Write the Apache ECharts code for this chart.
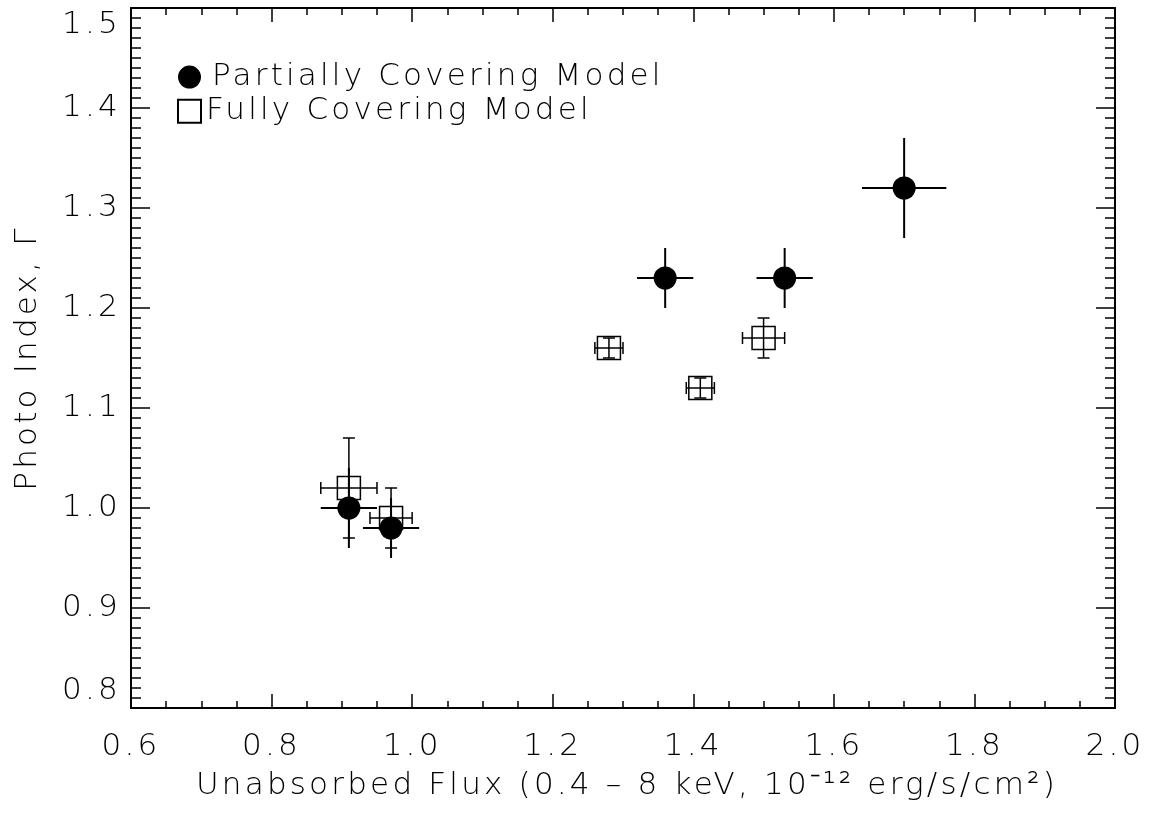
<!DOCTYPE html>
<html>
<head>
<meta charset="utf-8">
<script src="https://cdn.jsdelivr.net/npm/echarts@6/dist/echarts.min.js"></script>
<style>
html,body{margin:0;padding:0;background:#fff;}
#chart{width:1151px;height:813px;}
</style>
</head>
<body>
<div id="chart"></div>
<script>
// Partially covering model (filled circles)
const partialX    = [0.91, 0.97, 1.36, 1.53, 1.70];
const partialY    = [1.00, 0.98, 1.23, 1.23, 1.32];
const partialXErr = [0.04, 0.04, 0.04, 0.04, 0.06];
const partialYErr = [0.04, 0.03, 0.03, 0.03, 0.05];

// Fully covering model (open squares)
const fullX    = [0.91, 0.97, 1.28, 1.41, 1.50];
const fullY    = [1.02, 0.99, 1.16, 1.12, 1.17];
const fullXErr = [0.04, 0.03, 0.02, 0.02, 0.03];
const fullYErr = [0.05, 0.03, 0.01, 0.01, 0.02];

const xTicks = [0.6, 0.8, 1.0, 1.2, 1.4, 1.6, 1.8, 2.0];
const yTicks = [0.8, 0.9, 1.0, 1.1, 1.2, 1.3, 1.4, 1.5];

// wide, thin lettering similar to the original plot font
const LS = '3.2px';
(function () {
  const P = CanvasRenderingContext2D.prototype;
  if (!('letterSpacing' in P)) return;
  ['fillText', 'strokeText', 'measureText'].forEach(fn => {
    const orig = P[fn];
    P[fn] = function () { this.letterSpacing = LS; return orig.apply(this, arguments); };
  });
})();

const FONT = '"DejaVu Sans", sans-serif';
const FW = 200;
const FS = 31;
const TXT = '#000';

function rows(xs, ys, exs, eys) {
  return xs.map((x, i) => [x, ys[i], exs[i], eys[i]]);
}

function errRender(capHalf, lw) {
  return function (params, api) {
    const x = api.value(0), y = api.value(1), ex = api.value(2), ey = api.value(3);
    const l = api.coord([x - ex, y]);
    const r = api.coord([x + ex, y]);
    const t = api.coord([x, y + ey]);
    const b = api.coord([x, y - ey]);
    const st = { stroke: '#000', lineWidth: lw, fill: null };
    const ch = [
      { type: 'line', shape: { x1: l[0], y1: l[1], x2: r[0], y2: r[1] }, style: st },
      { type: 'line', shape: { x1: t[0], y1: t[1], x2: b[0], y2: b[1] }, style: st }
    ];
    if (capHalf > 0) {
      ch.push({ type: 'line', shape: { x1: l[0], y1: l[1] - capHalf, x2: l[0], y2: l[1] + capHalf }, style: st });
      ch.push({ type: 'line', shape: { x1: r[0], y1: r[1] - capHalf, x2: r[0], y2: r[1] + capHalf }, style: st });
      ch.push({ type: 'line', shape: { x1: t[0] - capHalf, y1: t[1], x2: t[0] + capHalf, y2: t[1] }, style: st });
      ch.push({ type: 'line', shape: { x1: b[0] - capHalf, y1: b[1], x2: b[0] + capHalf, y2: b[1] }, style: st });
    }
    return { type: 'group', children: ch };
  };
}

const axisLineStyle = { color: '#000', width: 2 };
const textBase = { fontFamily: FONT, fontWeight: FW, fontSize: FS, color: TXT };

function xAxisDef(pos, labels) {
  return {
    type: 'value', position: pos, min: xTicks[0], max: xTicks[xTicks.length - 1], interval: 0.2,
    axisLine: { show: true, onZero: false, lineStyle: axisLineStyle },
    axisTick: { show: true, inside: true, length: 14, lineStyle: { color: '#000', width: 1.5 } },
    minorTick: { show: true, splitNumber: 4, length: 7, lineStyle: { color: '#000', width: 1.5 } },
    splitLine: { show: false },
    axisLabel: Object.assign({ show: labels, formatter: v => v.toFixed(1), margin: 22 }, textBase),
    name: labels ? 'Unabsorbed Flux (0.4 – 8 keV, 10⁻¹² erg/s/cm²)' : '',
    nameLocation: 'middle', nameGap: 53,
    nameTextStyle: Object.assign({ padding: [0, 0, 0, 8] }, textBase)
  };
}

function yAxisDef(pos, labels) {
  return {
    type: 'value', position: pos, min: yTicks[0], max: yTicks[yTicks.length - 1], interval: 0.1,
    axisLine: { show: true, onZero: false, lineStyle: axisLineStyle },
    axisTick: { show: true, inside: true, length: 19, lineStyle: { color: '#000', width: 1.5 } },
    minorTick: { show: true, splitNumber: 10, length: 10, lineStyle: { color: '#000', width: 1.5 } },
    splitLine: { show: false },
    axisLabel: Object.assign({ show: labels, formatter: v => v.toFixed(1), margin: 10,
      verticalAlignMaxLabel: 'top', verticalAlignMinLabel: 'bottom' }, textBase),
    name: labels ? 'Photo Index, Γ' : '',
    nameLocation: 'middle', nameGap: 86,
    nameTextStyle: Object.assign({}, textBase)
  };
}

const chart = echarts.init(document.getElementById('chart'), null, { renderer: 'canvas' });
chart.setOption({
  animation: false,
  backgroundColor: '#fff',
  grid: { left: 131, right: 36, top: 8, bottom: 105, containLabel: false },
  xAxis: [xAxisDef('bottom', true), xAxisDef('top', false)],
  yAxis: [yAxisDef('left', true), yAxisDef('right', false)],
  legend: {
    orient: 'vertical', left: 177, top: 60, padding: 0, itemGap: 0,
    itemWidth: 23, itemHeight: 23, selectedMode: false,
    textStyle: Object.assign({ lineHeight: 30 }, textBase),
    data: [
      { name: 'Partially Covering Model', textStyle: { padding: [0, 0, 0, 6] } },
      { name: 'Fully Covering Model' }
    ]
  },
  series: [
    {
      name: 'fullErr', type: 'custom', silent: true, z: 2,
      renderItem: errRender(6, 1.5),
      data: rows(fullX, fullY, fullXErr, fullYErr)
    },
    {
      name: 'Fully Covering Model', type: 'scatter', silent: true, z: 3,
      symbol: 'rect', symbolSize: 23,
      itemStyle: { color: 'rgba(255,255,255,0)', borderColor: '#000', borderWidth: 1.5, opacity: 1 },
      data: fullX.map((x, i) => [x, fullY[i]])
    },
    {
      name: 'partErr', type: 'custom', silent: true, z: 4,
      renderItem: errRender(0, 2),
      data: rows(partialX, partialY, partialXErr, partialYErr)
    },
    {
      name: 'Partially Covering Model', type: 'scatter', silent: true, z: 5,
      symbol: 'circle', symbolSize: 23,
      itemStyle: { color: '#000', opacity: 1 },
      data: partialX.map((x, i) => [x, partialY[i]])
    }
  ]
});
</script>
</body>
</html>
